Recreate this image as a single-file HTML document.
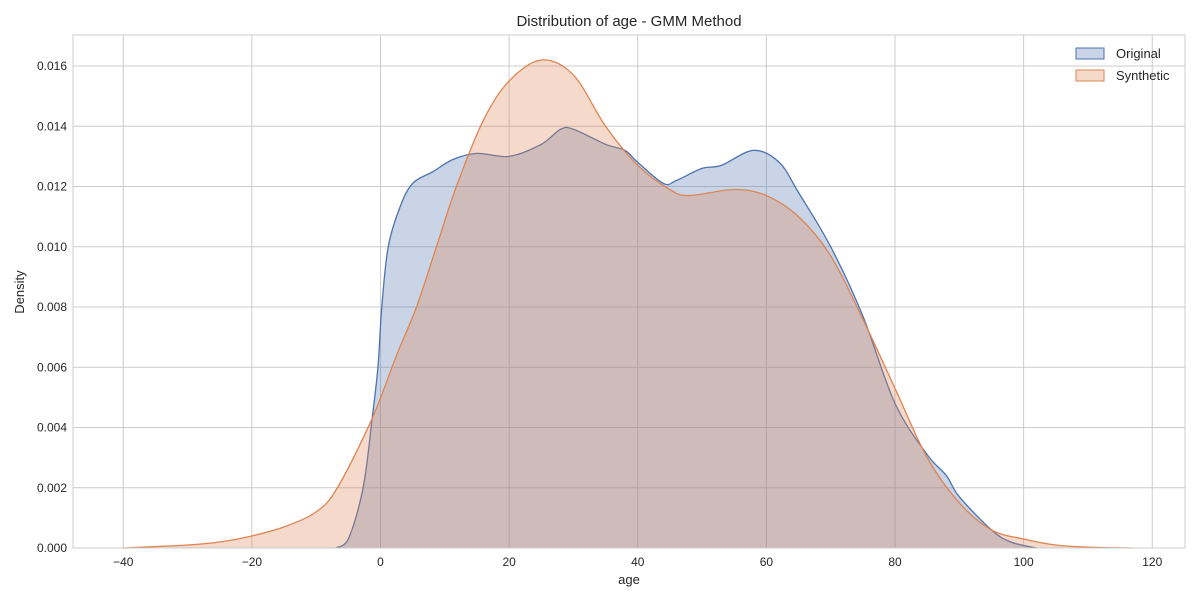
<!DOCTYPE html>
<html><head><meta charset="utf-8"><style>
body{margin:0;background:#fff;font-family:"Liberation Sans",sans-serif}
svg text{font-family:"Liberation Sans",sans-serif;fill:#262626}
</style></head><body>
<svg id="chart" width="1200" height="600">
<text x="629" y="26" font-size="15" text-anchor="middle">Distribution of age - GMM Method</text>
<g id="grid"></g><g id="series"></g><g id="axes"></g>
<rect x="73" y="35" width="1112" height="513" fill="none" stroke="#cccccc"/>
<text x="629" y="584" font-size="13" text-anchor="middle">age</text>
<text x="24" y="292" font-size="13" text-anchor="middle" transform="rotate(-90 24 292)">Density</text>
<g>
<rect x="1076" y="48" width="28" height="11" fill="rgba(76,114,176,0.3)" stroke="#4c72b0"/>
<text x="1116" y="58" font-size="13">Original</text>
<rect x="1076" y="70" width="28" height="11" fill="rgba(221,132,82,0.3)" stroke="#dd8452"/>
<text x="1116" y="80" font-size="13">Synthetic</text>
</g>
</svg>
<script>
const xTicks=[-40,-20,0,20,40,60,80,100,120];
const yTicks=[0,0.002,0.004,0.006,0.008,0.010,0.012,0.014,0.016];
const origX=[-7,-5,-2.7,-1.3,-0.4,0.2,1.2,3,5,8.2,11.3,15,20,25,28,30,35,38,40,44,46,50,53,58,62,65,70,75,80,85,88,90,95,98,102];
const origY=[0,0.0003,0.002,0.0043,0.006,0.008,0.010,0.0113,0.0121,0.0125,0.0129,0.0131,0.013,0.0134,0.0139,0.0139,0.0134,0.0132,0.0128,0.0121,0.0122,0.0126,0.0127,0.0132,0.0128,0.0118,0.0100,0.0077,0.0048,0.0031,0.0024,0.0017,0.0006,0.0002,0];
const synX=[-40,-30,-25,-20,-15,-10,-6.7,-1.3,2.5,5.6,8.7,11.8,16,20,25,30,35,40,45,48,55,60,65,70,75,80,85,90,95,100,105,110,117];
const synY=[0,0.0001,0.0002,0.0004,0.0007,0.0012,0.002,0.0043,0.0064,0.008,0.010,0.012,0.0142,0.0155,0.0162,0.0157,0.0140,0.0127,0.0119,0.0117,0.0119,0.0117,0.0110,0.0097,0.0076,0.0053,0.0030,0.0015,0.0006,0.0003,0.0001,0.00003,0];
const X=v=>380.5+(v)*6.43125, Y=v=>548-v*30125;
const NS="http://www.w3.org/2000/svg";
const grid=document.getElementById('grid'),axes=document.getElementById('axes'),ser=document.getElementById('series');
function mk(tag,at,parent){const e=document.createElementNS(NS,tag);for(const k in at)e.setAttribute(k,at[k]);parent.appendChild(e);return e;}
xTicks.forEach(t=>{
 const l=mk('line',{x1:X(t),x2:X(t),y1:35,y2:548,stroke:'#cccccc'},grid);
 
 
 const tx=mk('text',{x:X(t),y:566,'font-size':12,'text-anchor':'middle'},axes);
 tx.textContent=t<0?'\u2212'+(-t):t;
 
 
});
yTicks.forEach(t=>{
 const l=mk('line',{x1:73,x2:1185,y1:Y(t),y2:Y(t),stroke:'#cccccc'},grid);
 
 
 const tx=mk('text',{x:67,y:Y(t)+4,'font-size':12,'text-anchor':'end'},axes);
 tx.textContent=t.toFixed(3);
 
 
});
function path(xs,ys){
 const p=xs.map((x,i)=>[X(x),Y(ys[i])]);
 let d='M'+p[0][0]+','+p[0][1];
 for(let i=0;i<p.length-1;i++){
  const p0=p[i-1]||p[i],p1=p[i],p2=p[i+1],p3=p[i+2]||p2;
  const c1=[p1[0]+(p2[0]-p0[0])/6,p1[1]+(p2[1]-p0[1])/6],c2=[p2[0]-(p3[0]-p1[0])/6,p2[1]-(p3[1]-p1[1])/6];
  d+=`C${c1[0]},${Math.min(548,c1[1])},${c2[0]},${Math.min(548,c2[1])},${p2[0]},${p2[1]}`;
 }
 return d;
}
function area(xs,ys,col,name){
 const d=path(xs,ys);
 const f=mk('path',{d:d+`L${X(xs[xs.length-1])},548L${X(xs[0])},548Z`,fill:col,'fill-opacity':0.3,stroke:'none'},ser);
 
 
 const l=mk('path',{d:d,fill:'none',stroke:col,'stroke-width':1.3},ser);
 
 
}
area(origX,origY,'#4c72b0','original');
area(synX,synY,'#dd8452','synthetic');
</script>
</body></html>
